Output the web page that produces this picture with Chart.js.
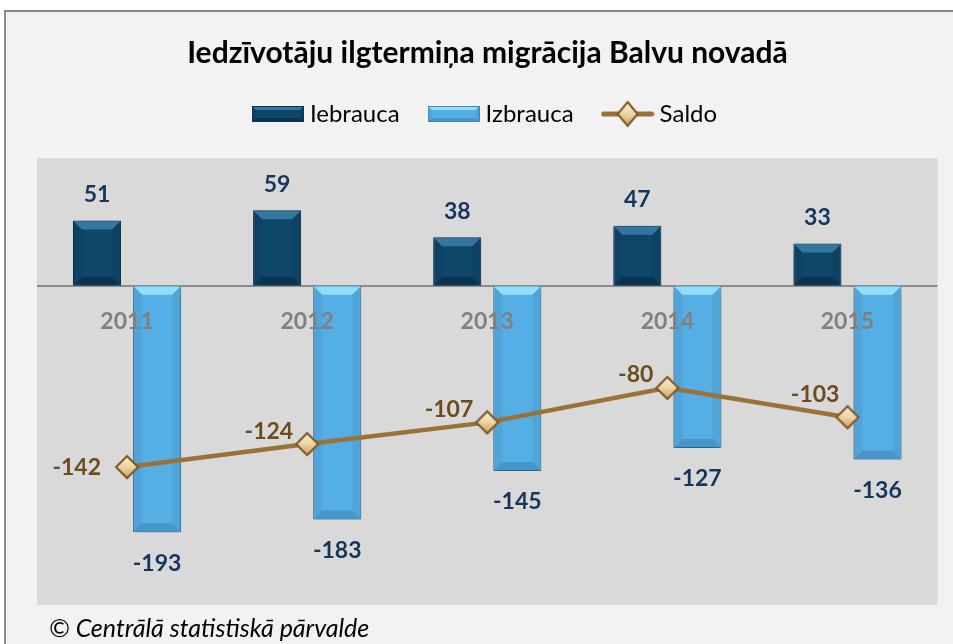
<!DOCTYPE html>
<html>
<head>
<meta charset="utf-8">
<script src="https://cdn.jsdelivr.net/npm/chart.js@4.4.1/dist/chart.umd.min.js"></script>
<style>
html, body { margin: 0; padding: 0; width: 953px; height: 644px; background: #fff; overflow: hidden; }
#frame { position: absolute; left: 4px; top: 10px; width: 1200px; height: 900px; background: #f2f2f2; border: 2px solid #8a8a8a; border-right: none; border-bottom: none; }
#wrap { position: absolute; left: 0; top: 0; width: 953px; height: 644px; }
#source { position: absolute; left: 49px; top: 615px; font: italic 25px Lato, sans-serif; line-height: 25px; color: #000; white-space: nowrap; }
</style>
</head>
<body>
<div id="frame"></div>
<div id="wrap"><canvas id="migrationChart"></canvas></div>
<div id="source">© Centrālā statistiskā pārvalde</div>
<script>
const years = ['2011', '2012', '2013', '2014', '2015'];
const iebrauca = [51, 59, 38, 47, 33];
const izbrauca = [-193, -183, -145, -127, -136];
const saldo = [-142, -124, -107, -80, -103];

const FONT = 'Lato, "Open Sans", sans-serif';

// bar colours: face, top bevel, bottom bevel, outline
const darkBar = { face: '#0f476b', light: '#3576a0', dark: '#0b3350', border: '#0b3350' };
const lightBar = { face: '#55afe5', light: '#93dcfa', dark: '#4796c9', border: '#3f86b4' };

function drawBevel(g, l, t, w, h, b, c) {
    const r = l + w, btm = t + h;
    g.fillStyle = c.light;
    g.beginPath(); g.moveTo(l, t); g.lineTo(r, t); g.lineTo(r - b, t + b); g.lineTo(l + b, t + b); g.closePath(); g.fill();
    g.fillStyle = c.dark;
    g.beginPath(); g.moveTo(l, btm); g.lineTo(r, btm); g.lineTo(r - b, btm - b); g.lineTo(l + b, btm - b); g.closePath(); g.fill();
    g.fillStyle = 'rgba(0,0,0,0.06)';
    g.beginPath(); g.moveTo(l, t); g.lineTo(l + b, t + b); g.lineTo(l + b, btm - b); g.lineTo(l, btm); g.closePath(); g.fill();
    g.beginPath(); g.moveTo(r, t); g.lineTo(r - b, t + b); g.lineTo(r - b, btm - b); g.lineTo(r, btm); g.closePath(); g.fill();
}

function barSwatch(c) {
    const cv = document.createElement('canvas');
    cv.width = 52; cv.height = 16;
    const g = cv.getContext('2d');
    g.fillStyle = c.face;
    g.fillRect(0, 0, 52, 16);
    drawBevel(g, 0, 0, 52, 16, 4, c);
    g.strokeStyle = c.border;
    g.strokeRect(0.5, 0.5, 51, 15);
    return cv;
}

function drawDiamond(g, cx, cy, rx, ry) {
    const grad = g.createLinearGradient(0, cy - ry, 0, cy + ry);
    grad.addColorStop(0, '#fdf0d2');
    grad.addColorStop(0.5, '#ecd3a3');
    grad.addColorStop(1, '#c9a26a');
    g.fillStyle = grad;
    g.strokeStyle = '#7a5724';
    g.lineWidth = 2;
    g.beginPath();
    g.moveTo(cx, cy - ry); g.lineTo(cx + rx, cy); g.lineTo(cx, cy + ry); g.lineTo(cx - rx, cy);
    g.closePath();
    g.fill(); g.stroke();
}

function diamondImage(r) {
    const cv = document.createElement('canvas');
    cv.width = cv.height = 2 * r + 4;
    drawDiamond(cv.getContext('2d'), r + 2, r + 2, r, r);
    return cv;
}

function lineSwatch() {
    const cv = document.createElement('canvas');
    cv.width = 54; cv.height = 28;
    const g = cv.getContext('2d');
    g.strokeStyle = '#9c7136';
    g.lineWidth = 5;
    g.lineCap = 'round';
    g.beginPath(); g.moveTo(3, 14); g.lineTo(51, 14); g.stroke();
    drawDiamond(g, 27, 14, 10, 12);
    return cv;
}

const pointImg = diamondImage(11);

// gray plot area and zero line
const plotBackground = {
    id: 'plotBackground',
    beforeDraw(chart) {
        const { ctx, chartArea: a } = chart;
        ctx.save();
        ctx.fillStyle = '#d9d9d9';
        ctx.fillRect(a.left, a.top, a.right - a.left, a.bottom - a.top);
        ctx.restore();
    },
    beforeDatasetsDraw(chart) {
        const { ctx, chartArea: a } = chart;
        const y0 = Math.round(chart.scales.y.getPixelForValue(0));
        ctx.save();
        ctx.strokeStyle = '#8c8c8c';
        ctx.lineWidth = 2;
        ctx.beginPath(); ctx.moveTo(a.left, y0); ctx.lineTo(a.right, y0); ctx.stroke();
        ctx.restore();
    }
};

// more room under the legend
const legendGap = {
    id: 'legendGap',
    beforeUpdate(chart) {
        if (chart.legend && !chart.legend._gapPatched) {
            const fit = chart.legend.fit;
            chart.legend.fit = function () {
                fit.call(this);
                this.height += 22;
            };
            chart.legend._gapPatched = true;
        }
    }
};

// shadow + bevel on bars
const bevelBars = {
    id: 'bevelBars',
    beforeDatasetDraw(chart, args) {
        if (args.meta.type !== 'bar') return;
        const ctx = chart.ctx;
        ctx.save();
        ctx.shadowColor = 'rgba(0,0,0,0.35)';
        ctx.shadowBlur = 7;
        ctx.shadowOffsetY = 4;
    },
    afterDatasetDraw(chart, args) {
        if (args.meta.type !== 'bar') return;
        const ctx = chart.ctx;
        ctx.restore();
        const c = args.index === 0 ? darkBar : lightBar;
        args.meta.data.forEach(el => {
            const l = el.x - el.width / 2 + 1;
            const t = Math.min(el.y, el.base) + 1;
            const w = el.width - 2;
            const h = Math.abs(el.base - el.y) - 2;
            ctx.save();
            drawBevel(ctx, l, t, w, h, 8, c);
            ctx.restore();
        });
    }
};

// category labels on the zero line and value labels
const textLabels = {
    id: 'textLabels',
    afterDatasetsDraw(chart) {
        const ctx = chart.ctx;
        const y0 = chart.scales.y.getPixelForValue(0);
        ctx.save();
        ctx.textBaseline = 'middle';
        ctx.textAlign = 'center';
        ctx.font = 'bold 23px ' + FONT;
        ctx.fillStyle = '#808080';
        chart.data.labels.forEach((lab, j) => {
            ctx.fillText(lab, chart.scales.x.getPixelForValue(j), y0 + 36);
        });
        ctx.font = 'bold 23px ' + FONT;
        chart.data.datasets.forEach((ds, i) => {
            const meta = chart.getDatasetMeta(i);
            meta.data.forEach((el, j) => {
                const v = ds.data[j];
                if (meta.type === 'line') {
                    ctx.fillStyle = '#6c4b1d';
                    ctx.textAlign = 'right';
                    let dx = -14, dy = -13;
                    if (j === 0) { dx = -26; dy = 1; }
                    else if (meta.data[j - 1].y < el.y - 5) { dx = -8; dy = -23; }
                    ctx.fillText(v, el.x + dx, el.y + dy);
                } else {
                    ctx.fillStyle = '#15355a';
                    ctx.textAlign = 'center';
                    ctx.fillText(v, el.x, v >= 0 ? el.y - 26 : el.y + 31);
                }
            });
        });
        ctx.restore();
    }
};

const legendImages = [barSwatch(darkBar), barSwatch(lightBar), lineSwatch()];

const ctx = document.getElementById('migrationChart').getContext('2d');
const migrationChart = new Chart(ctx, {
    type: 'bar',
    data: {
        labels: years,
        datasets: [
            {
                label: 'Iebrauca',
                data: iebrauca,
                backgroundColor: darkBar.face,
                borderColor: darkBar.border,
                borderWidth: 1,
                barPercentage: 0.8,
                categoryPercentage: 0.667,
                order: 2
            },
            {
                label: 'Izbrauca',
                data: izbrauca,
                backgroundColor: lightBar.face,
                borderColor: lightBar.border,
                borderWidth: 1,
                barPercentage: 0.8,
                categoryPercentage: 0.667,
                order: 2
            },
            {
                type: 'line',
                label: 'Saldo',
                data: saldo,
                borderColor: '#9c7136',
                borderWidth: 4.5,
                pointStyle: pointImg,
                pointRadius: 11,
                tension: 0,
                order: 1
            }
        ]
    },
    options: {
        responsive: true,
        maintainAspectRatio: false,
        animation: false,
        layout: { padding: { top: 11, left: 37, right: 15, bottom: 39 } },
        scales: {
            x: { display: false },
            y: { display: false, min: -250, max: 100 }
        },
        plugins: {
            title: {
                display: true,
                text: 'Iedzīvotāju ilgtermiņa migrācija Balvu novadā',
                color: '#000',
                font: { family: FONT, size: 30, weight: 'bold', lineHeight: 1 },
                padding: { top: 27, bottom: 0 }
            },
            legend: {
                position: 'top',
                labels: {
                    color: '#000',
                    font: { family: FONT, size: 24 },
                    usePointStyle: true,
                    pointStyleWidth: 40,
                    boxHeight: 16,
                    padding: 34,
                    generateLabels: function (chart) {
                        return chart.data.datasets.map((ds, i) => ({
                            text: ds.label,
                            pointStyle: legendImages[i],
                            fillStyle: 'transparent',
                            strokeStyle: 'transparent',
                            lineWidth: 0,
                            fontColor: '#000',
                            datasetIndex: i,
                            hidden: false
                        }));
                    }
                }
            },
            tooltip: { enabled: false }
        }
    },
    plugins: [plotBackground, legendGap, bevelBars, textLabels]
});
</script>
</body>
</html>
